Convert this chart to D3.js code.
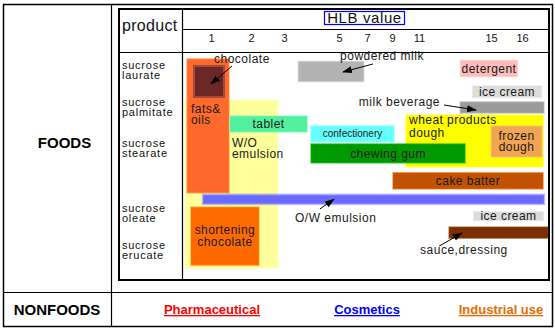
<!DOCTYPE html>
<html><head><meta charset="utf-8">
<script src="https://cdn.jsdelivr.net/npm/d3@7"></script>
<style>
body{margin:0;background:#fff}
svg{display:block}
text{font-family:"Liberation Sans",Arial,Helvetica,sans-serif}
</style>
</head><body>
<svg id="c" width="555" height="330"></svg>
<script>
// ---------------- DATA ----------------
const hlbTicks = [1, 2, 3, 5, 7, 9, 11, 15, 16];
const products = [
  ["sucrose", "laurate"],
  ["sucrose", "palmitate"],
  ["sucrose", "stearate"],
  ["sucrose", "oleate"],
  ["sucrose", "erucate"]
];
const sections = ["FOODS", "NONFOODS"];
const nonfoodUses = ["Pharmaceutical", "Cosmetics", "Industrial use"];
// food applications: HLB range and product-row span (row index units, 0 = laurate ... 4 = erucate)
const foodBars = [
  {id: "wo",        name: "W/O emulsion",          hlb: [0.35, 2.82],  row: [0.81, 4.49]},
  {id: "fats",      name: "fats& oils",            hlb: [0.40, 1.45],  row: [-0.30, 2.69]},
  {id: "choc",      name: "chocolate",             hlb: [0.575, 1.325],row: [-0.11, 0.73]},
  {id: "short",     name: "shortening chocolate",  hlb: [0.50, 2.24],  row: [2.91, 4.41]},
  {id: "tablet",    name: "tablet",                hlb: [1.475, 3.84], row: [1.22, 1.61]},
  {id: "powder",    name: "powdered milk",         hlb: [3.51, 6.79],  row: [-0.24, 0.32]},
  {id: "confect",   name: "confectionery",         hlb: [3.98, 9.15],  row: [1.46, 1.85]},
  {id: "wheat",     name: "wheat products dough",  hlb: [10.04, 16.68],row: [1.20, 2.29]},
  {id: "gum",       name: "chewing gum",           hlb: [3.98, 13.56], row: [1.90, 2.23]},
  {id: "frozen",    name: "frozen dough",          hlb: [15.0, 16.65], row: [1.46, 2.14]},
  {id: "cake",      name: "cake batter",           hlb: [9.07, 16.68], row: [2.38, 2.63]},
  {id: "ow",        name: "O/W emulsion",          hlb: [0.80, 16.71], row: [2.72, 2.86]},
  {id: "deterg",    name: "detergent",             hlb: [13.28, 15.87],row: [-0.27, 0.19]},
  {id: "ice1",      name: "ice cream",             hlb: [13.94, 16.65],row: [0.41, 0.76]},
  {id: "milkbev",   name: "milk beverage",         hlb: [13.28, 16.71],row: [0.86, 1.15]},
  {id: "ice2",      name: "ice cream",             hlb: [14.0, 16.71], row: [2.97, 3.22]},
  {id: "sauce",     name: "sauce,dressing",        hlb: [12.67, 16.84],row: [3.38, 3.68]}
];

// ---------------- LAYOUT / STYLE ----------------
const barFill = {
  wo: "#ffff9c", fats: "#ff6a2c", choc: "#6b2626", short: "#ff6a00", tablet: "#52f09c",
  powder: "#b3b3b3", confect: "#66ffff", wheat: "#ffff00", gum: "#009900", frozen: "#f2a552",
  cake: "#c05200", ow: "#6a6aff", deterg: "#ffbcbc", ice1: "#dcdcdc", milkbev: "#9a9a9a",
  ice2: "#dcdcdc", sauce: "#7a2e00"
};
// label modes: c = centered lines, tl = top-left lines at offset, co = callout
const barLabel = {
  wo:     {mode: "tl", lines: ["W/O", "emulsion"], dx: 47, dy: 47, lh: 11.5},
  fats:   {mode: "tl", lines: ["fats&", "oils"], dx: 4, dy: 54, lh: 11.5},
  short:  {mode: "c",  lines: ["shortening", "chocolate"], lh: 12},
  tablet: {mode: "c",  lines: ["tablet"]},
  confect:{mode: "c",  lines: ["confectionery"], size: 10, ls: 0},
  wheat:  {mode: "tl", lines: ["wheat products", "dough"], dx: 3, dy: 9, lh: 12.5},
  gum:    {mode: "c",  lines: ["chewing gum"]},
  frozen: {mode: "c",  lines: ["frozen", "dough"], lh: 10.5},
  cake:   {mode: "c",  lines: ["cake batter"]},
  deterg: {mode: "c",  lines: ["detergent"]},
  ice1:   {mode: "c",  lines: ["ice cream"]},
  ice2:   {mode: "c",  lines: ["ice cream"]},
  choc:   {mode: "co", tx: 5,   ty: -18, anchor: "start", a: [23, -15.5, 2, 2.5]},
  powder: {mode: "co", tx: 9,   ty: -11, anchor: "start", a: [42, -7.5, 12, 0.5]},
  milkbev:{mode: "co", tx: -62, ty: -1.5,  anchor: "end",   a: [-58, -2.5, -26, 2.5]},
  ow:     {mode: "co", tx: -78.5, ty: 22.5, anchor: "start", a: [-53.5, 9.5, -39.5, 0]},
  sauce:  {mode: "co", tx: -78.5, ty: 21.5, anchor: "start", a: [-59.5, 13.5, -36.5, 0.5]}
};

const svg = d3.select("#c");

// scales (non-uniform HLB axis and product rows: piecewise linear)
const x = d3.scaleLinear().domain(hlbTicks).range([211, 251, 284, 339, 367, 392, 419, 491, 522]);
const y = d3.scaleLinear().domain(d3.range(products.length)).range([70, 107, 148, 213, 250]);
const useX = d3.scaleOrdinal().domain(nonfoodUses).range([212, 367, 501]);
const useColor = d3.scaleOrdinal().domain(nonfoodUses).range(["#ff0000", "#0000ff", "#ee6a00"]);

// marker
svg.append("defs").append("marker")
  .attr("id", "arr").attr("markerUnits", "userSpaceOnUse")
  .attr("markerWidth", 10).attr("markerHeight", 8)
  .attr("refX", 9).attr("refY", 3.5).attr("orient", "auto")
  .append("path").attr("d", "M0,0 L10,3.5 L0,7 Z").attr("fill", "#000");

// outer table
const line = (x1, y1, x2, y2, w) => svg.append("line")
  .attr("x1", x1).attr("y1", y1).attr("x2", x2).attr("y2", y2)
  .attr("stroke", "#000").attr("stroke-width", w || 1);
svg.append("rect").attr("x", 3.5).attr("y", 4.5).attr("width", 549).attr("height", 322)
  .attr("fill", "none").attr("stroke", "#000").attr("stroke-width", 1.5);
line(111.5, 4.5, 111.5, 326.5, 1.2);
line(3.5, 292.5, 552.5, 292.5, 1.2);

// bars
const bars = svg.append("g");
bars.selectAll("rect").data(foodBars).join("rect")
  .attr("x", d => x(d.hlb[0]))
  .attr("y", d => y(d.row[0]))
  .attr("width", d => x(d.hlb[1]) - x(d.hlb[0]))
  .attr("height", d => y(d.row[1]) - y(d.row[0]))
  .attr("fill", d => barFill[d.id])
  .attr("stroke", d => d.id === "choc" ? "#a8483c" : d3.color(barFill[d.id]).brighter(0.6))
  .attr("stroke-opacity", d => d.id === "choc" ? 1 : 0.55)
  .attr("stroke-width", d => d.id === "choc" ? 2 : (d.id === "ow" ? 2.5 : 1.5));

// bar labels
const lab = svg.append("g").attr("fill", "#1a1a1a");
foodBars.forEach(d => {
  const L = barLabel[d.id];
  if (!L) return;
  const x0 = x(d.hlb[0]), x1 = x(d.hlb[1]), y0 = y(d.row[0]), y1 = y(d.row[1]);
  const cx = (x0 + x1) / 2, cy = (y0 + y1) / 2;
  const size = L.size || 12, ls = L.ls === undefined ? 0.45 : L.ls;
  if (L.mode === "c" || L.mode === "tl") {
    const lh = L.lh || 12;
    const n = L.lines.length;
    const t = lab.append("text").attr("font-size", size).attr("letter-spacing", ls)
      .attr("text-anchor", L.mode === "c" ? "middle" : "start");
    L.lines.forEach((s, i) => {
      const ty = L.mode === "c" ? cy + (i - (n - 1) / 2) * lh + size * 0.35 : y0 + L.dy + i * lh;
      t.append("tspan").attr("x", L.mode === "c" ? cx : x0 + L.dx).attr("y", ty).text(s);
    });
  } else {
    lab.append("text").attr("font-size", 12).attr("letter-spacing", 0.5)
      .attr("text-anchor", L.anchor)
      .attr("x", cx + L.tx).attr("y", cy + L.ty).text(d.name);
    svg.append("line")
      .attr("x1", cx + L.a[0]).attr("y1", cy + L.a[1])
      .attr("x2", cx + L.a[2]).attr("y2", cy + L.a[3])
      .attr("stroke", "#000").attr("stroke-width", 1)
      .attr("marker-end", "url(#arr)");
  }
});

// inner chart frame
svg.append("rect").attr("x", 119).attr("y", 9).attr("width", 430).attr("height", 271)
  .attr("fill", "none").attr("stroke", "#000").attr("stroke-width", 2);
line(182.5, 9, 182.5, 280, 1.2);
line(182.5, 29.5, 549, 29.5, 1);
line(119, 52.5, 549, 52.5, 1.2);

// header
svg.append("text").attr("x", 122).attr("y", 31).attr("font-size", 16).attr("letter-spacing", 0.3)
  .attr("fill", "#111").text("product");
svg.append("rect").attr("x", 324.5).attr("y", 11.5).attr("width", 80).attr("height", 13)
  .attr("fill", "none").attr("stroke", "#0000ff").attr("stroke-width", 1.2);
svg.append("text").attr("x", 364.5).attr("y", 23.3).attr("text-anchor", "middle")
  .attr("font-size", 15).attr("letter-spacing", 0.6).attr("fill", "#111").text("HLB value");

// HLB tick labels via axis
const ax = svg.append("g").attr("transform", "translate(0,34)")
  .call(d3.axisBottom(x).tickValues(hlbTicks).tickSize(0).tickPadding(0).tickFormat(d3.format("d")));
ax.select(".domain").remove();
ax.selectAll("text").attr("font-size", 11).attr("fill", "#111")
  .style("font-family", '"Liberation Sans",Arial,sans-serif');

// product labels
const pl = svg.append("g").attr("fill", "#111");
products.forEach((p, i) => {
  const t = pl.append("text").attr("font-size", 11).attr("letter-spacing", 0.75);
  p.forEach((s, j) => t.append("tspan").attr("x", 122).attr("y", y(i) - 1.5 + j * 10).text(s));
});

// section labels
svg.append("text").attr("x", 64.5).attr("y", 148).attr("text-anchor", "middle")
  .attr("font-size", 15).attr("font-weight", "bold").text(sections[0]);
svg.append("text").attr("x", 57).attr("y", 315).attr("text-anchor", "middle")
  .attr("font-size", 15).attr("font-weight", "bold").text(sections[1]);

// nonfood uses
svg.append("g").selectAll("text").data(nonfoodUses).join("text")
  .attr("x", d => useX(d)).attr("y", 314).attr("text-anchor", "middle")
  .attr("font-size", 13).attr("font-weight", "bold")
  .attr("fill", d => useColor(d))
  .style("text-decoration", "underline")
  .text(d => d);
</script>
</body></html>
